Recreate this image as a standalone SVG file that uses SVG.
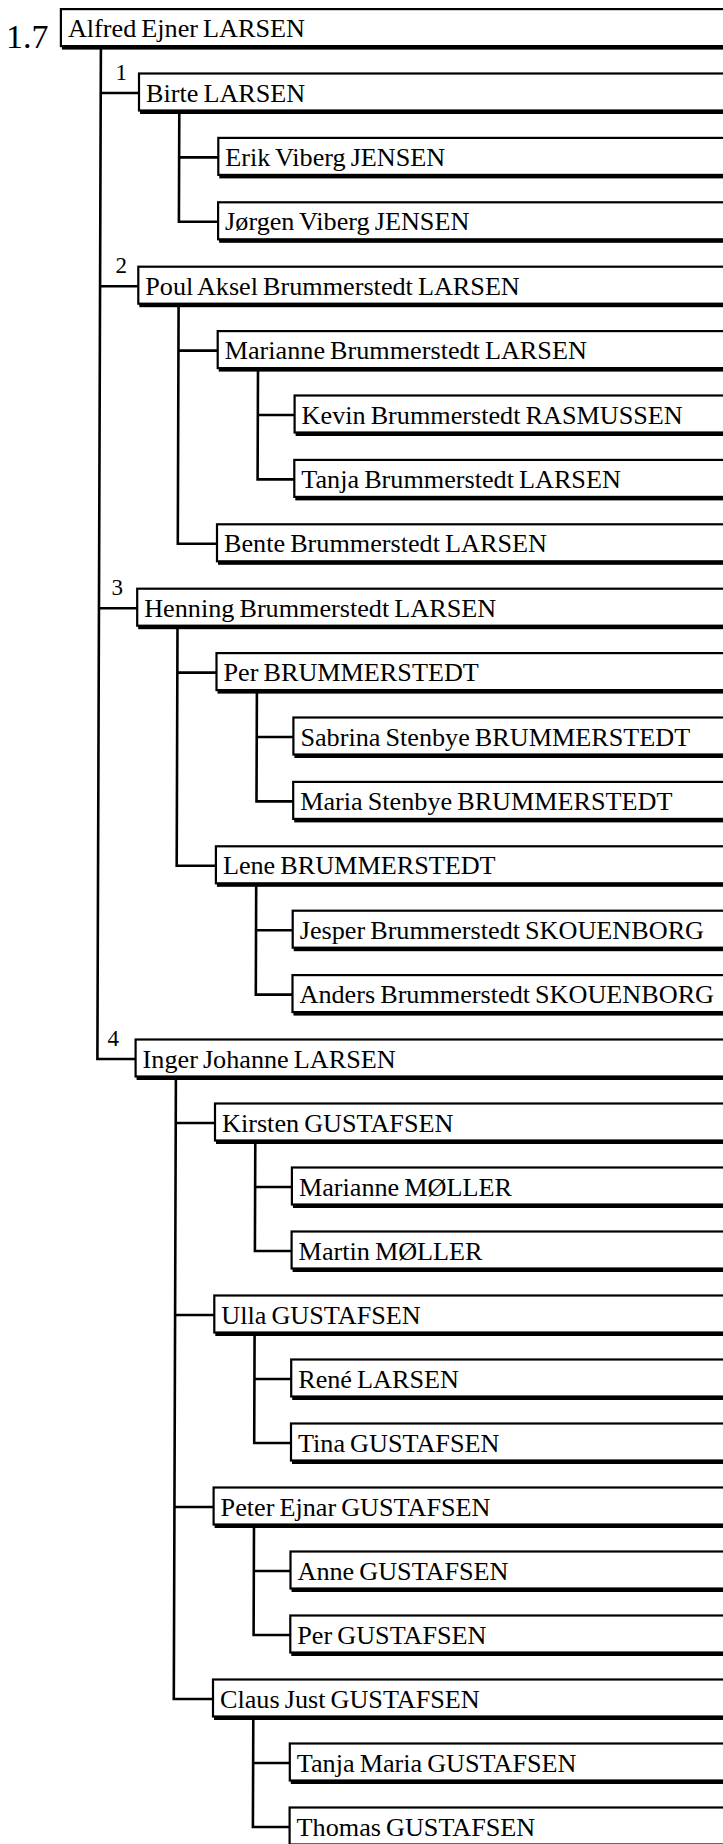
<svg xmlns="http://www.w3.org/2000/svg" width="723" height="1844" viewBox="0 0 723 1844">
<style>
  .bg { fill: #ffffff; }
  .box .b { fill: #ffffff; stroke: #000000; stroke-width: 2.2; }
  .box .s { fill: #000000; }
  .box text { font-family: "Liberation Serif", "Times New Roman", serif; font-size: 26.2px; word-spacing: -1.5px; fill: #000000; }
  .con path { fill: none; stroke: #000000; stroke-width: 2.6; stroke-linejoin: miter; }
  .num { font-family: "Liberation Serif", "Times New Roman", serif; font-size: 23px; fill: #000000; }
  .title { font-family: "Liberation Serif", "Times New Roman", serif; font-size: 34px; fill: #000000; }
</style>
<rect class="bg" x="0" y="0" width="723" height="1844"/>

<g id="connectors" class="con">
  <path d="M100.9 46 L97.4 1059 L135.6 1059 M100.8 93 H139 M100.1 286.2 H138.3 M99 608.2 H137.2"/>
  <path d="M179.3 110.5 L178.9 221.8 L218.1 221.8 M179.15 157.4 H218.3"/>
  <path d="M178.6 303.7 L177.8 543.8 L217 543.8 M178.5 350.6 H217.7"/>
  <path d="M258 368.1 L257.6 479.4 L294.3 479.4 M257.85 415 H294.6"/>
  <path d="M177.5 625.7 L176.7 865.8 L215.9 865.8 M177.3 672.6 H216.5"/>
  <path d="M256.9 690.1 L256.5 801.4 L293.2 801.4 M256.7 737 H293.4"/>
  <path d="M256.2 883.3 L255.8 994.6 L292.5 994.6 M256 930.2 H292.7"/>
  <path d="M175.9 1076.5 L173.8 1699 L213 1699 M175.8 1123 H215 M175.1 1315 H214.3 M174.4 1507 H213.6"/>
  <path d="M255.3 1140.5 L254.9 1251 L291.6 1251 M255.1 1187 H291.9"/>
  <path d="M254.6 1332.5 L254.2 1443 L291 1443 M254.5 1379 H291.2"/>
  <path d="M254 1524.5 L253.6 1635 L290.3 1635 M253.8 1571 H290.5"/>
  <path d="M253.3 1716.5 L252.9 1827 L289.6 1827 M253.1 1763 H289.8"/>
</g>

<g id="labels">
  <text class="title" x="6" y="48">1.7</text>
  <text class="num" x="115.5" y="80">1</text>
  <text class="num" x="115.5" y="273">2</text>
  <text class="num" x="111.5" y="595">3</text>
  <text class="num" x="107.5" y="1046">4</text>
</g>

<g id="n0" class="box"><rect class="s" x="61.9" y="12.6" width="720" height="37"/><rect class="b" x="60.9" y="9.1" width="720" height="37"/><text x="67.9" y="37.1">Alfred Ejner LARSEN</text></g>
<g id="n1" class="box"><rect class="s" x="140" y="77" width="640" height="37"/><rect class="b" x="139" y="73.5" width="640" height="37"/><text x="146" y="101.5">Birte LARSEN</text></g>
<g id="n2" class="box"><rect class="s" x="219.3" y="141.4" width="560" height="37"/><rect class="b" x="218.3" y="137.9" width="560" height="37"/><text x="225.3" y="165.9">Erik Viberg JENSEN</text></g>
<g id="n3" class="box"><rect class="s" x="219.1" y="205.8" width="560" height="37"/><rect class="b" x="218.1" y="202.3" width="560" height="37"/><text x="225.1" y="230.3">Jørgen Viberg JENSEN</text></g>
<g id="n4" class="box"><rect class="s" x="139.3" y="270.2" width="640" height="37"/><rect class="b" x="138.3" y="266.7" width="640" height="37"/><text x="145.3" y="294.7">Poul Aksel Brummerstedt LARSEN</text></g>
<g id="n5" class="box"><rect class="s" x="218.7" y="334.6" width="560" height="37"/><rect class="b" x="217.7" y="331.1" width="560" height="37"/><text x="224.7" y="359.1">Marianne Brummerstedt LARSEN</text></g>
<g id="n6" class="box"><rect class="s" x="295.6" y="399" width="480" height="37"/><rect class="b" x="294.6" y="395.5" width="480" height="37"/><text x="301.6" y="423.5">Kevin Brummerstedt RASMUSSEN</text></g>
<g id="n7" class="box"><rect class="s" x="295.3" y="463.4" width="480" height="37"/><rect class="b" x="294.3" y="459.9" width="480" height="37"/><text x="301.3" y="487.9">Tanja Brummerstedt LARSEN</text></g>
<g id="n8" class="box"><rect class="s" x="218" y="527.8" width="560" height="37"/><rect class="b" x="217" y="524.3" width="560" height="37"/><text x="224" y="552.3">Bente Brummerstedt LARSEN</text></g>
<g id="n9" class="box"><rect class="s" x="138.2" y="592.2" width="640" height="37"/><rect class="b" x="137.2" y="588.7" width="640" height="37"/><text x="144.2" y="616.7">Henning Brummerstedt LARSEN</text></g>
<g id="n10" class="box"><rect class="s" x="217.5" y="656.6" width="560" height="37"/><rect class="b" x="216.5" y="653.1" width="560" height="37"/><text x="223.5" y="681.1">Per BRUMMERSTEDT</text></g>
<g id="n11" class="box"><rect class="s" x="294.4" y="721" width="480" height="37"/><rect class="b" x="293.4" y="717.5" width="480" height="37"/><text x="300.4" y="745.5">Sabrina Stenbye BRUMMERSTEDT</text></g>
<g id="n12" class="box"><rect class="s" x="294.2" y="785.4" width="480" height="37"/><rect class="b" x="293.2" y="781.9" width="480" height="37"/><text x="300.2" y="809.9">Maria Stenbye BRUMMERSTEDT</text></g>
<g id="n13" class="box"><rect class="s" x="216.9" y="849.8" width="560" height="37"/><rect class="b" x="215.9" y="846.3" width="560" height="37"/><text x="222.9" y="874.3">Lene BRUMMERSTEDT</text></g>
<g id="n14" class="box"><rect class="s" x="293.7" y="914.2" width="480" height="37"/><rect class="b" x="292.7" y="910.7" width="480" height="37"/><text x="299.7" y="938.7">Jesper Brummerstedt SKOUENBORG</text></g>
<g id="n15" class="box"><rect class="s" x="293.5" y="978.6" width="480" height="37"/><rect class="b" x="292.5" y="975.1" width="480" height="37"/><text x="299.5" y="1003.1">Anders Brummerstedt SKOUENBORG</text></g>
<g id="n16" class="box"><rect class="s" x="136.6" y="1043" width="640" height="37"/><rect class="b" x="135.6" y="1039.5" width="640" height="37"/><text x="142.6" y="1067.5">Inger Johanne LARSEN</text></g>
<g id="n17" class="box"><rect class="s" x="216" y="1107" width="560" height="37"/><rect class="b" x="215" y="1103.5" width="560" height="37"/><text x="222" y="1131.5">Kirsten GUSTAFSEN</text></g>
<g id="n18" class="box"><rect class="s" x="292.9" y="1171" width="480" height="37"/><rect class="b" x="291.9" y="1167.5" width="480" height="37"/><text x="298.9" y="1195.5">Marianne MØLLER</text></g>
<g id="n19" class="box"><rect class="s" x="292.6" y="1235" width="480" height="37"/><rect class="b" x="291.6" y="1231.5" width="480" height="37"/><text x="298.6" y="1259.5">Martin MØLLER</text></g>
<g id="n20" class="box"><rect class="s" x="215.3" y="1299" width="560" height="37"/><rect class="b" x="214.3" y="1295.5" width="560" height="37"/><text x="221.3" y="1323.5">Ulla GUSTAFSEN</text></g>
<g id="n21" class="box"><rect class="s" x="292.2" y="1363" width="480" height="37"/><rect class="b" x="291.2" y="1359.5" width="480" height="37"/><text x="298.2" y="1387.5">René LARSEN</text></g>
<g id="n22" class="box"><rect class="s" x="292" y="1427" width="480" height="37"/><rect class="b" x="291" y="1423.5" width="480" height="37"/><text x="298" y="1451.5">Tina GUSTAFSEN</text></g>
<g id="n23" class="box"><rect class="s" x="214.6" y="1491" width="560" height="37"/><rect class="b" x="213.6" y="1487.5" width="560" height="37"/><text x="220.6" y="1515.5">Peter Ejnar GUSTAFSEN</text></g>
<g id="n24" class="box"><rect class="s" x="291.5" y="1555" width="480" height="37"/><rect class="b" x="290.5" y="1551.5" width="480" height="37"/><text x="297.5" y="1579.5">Anne GUSTAFSEN</text></g>
<g id="n25" class="box"><rect class="s" x="291.3" y="1619" width="480" height="37"/><rect class="b" x="290.3" y="1615.5" width="480" height="37"/><text x="297.3" y="1643.5">Per GUSTAFSEN</text></g>
<g id="n26" class="box"><rect class="s" x="214" y="1683" width="560" height="37"/><rect class="b" x="213" y="1679.5" width="560" height="37"/><text x="220" y="1707.5">Claus Just GUSTAFSEN</text></g>
<g id="n27" class="box"><rect class="s" x="290.8" y="1747" width="480" height="37"/><rect class="b" x="289.8" y="1743.5" width="480" height="37"/><text x="296.8" y="1771.5">Tanja Maria GUSTAFSEN</text></g>
<g id="n28" class="box"><rect class="s" x="290.6" y="1811" width="480" height="37"/><rect class="b" x="289.6" y="1807.5" width="480" height="37"/><text x="296.6" y="1835.5">Thomas GUSTAFSEN</text></g>
</svg>
